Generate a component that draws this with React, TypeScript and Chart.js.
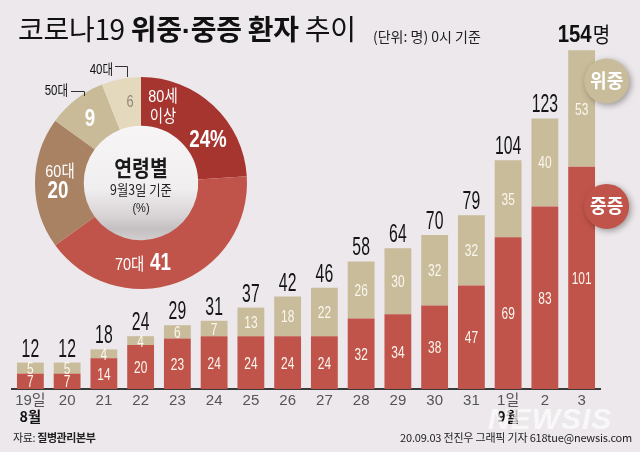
import React, { useEffect, useRef } from "react";
import { Chart, registerables } from "chart.js";

Chart.register(...registerables);

// ---- data ----
const categories = ["19일", "20", "21", "22", "23", "24", "25", "26", "27", "28", "29", "30", "31", "1일", "2", "3"];
const severeValues = [7, 7, 14, 20, 23, 24, 24, 24, 24, 32, 34, 38, 47, 69, 83, 101]; // 중증
const criticalValues = [5, 5, 4, 4, 6, 7, 13, 18, 22, 26, 30, 32, 32, 35, 40, 53]; // 위중
const monthIndexes = [0, 13];
const monthNames = ["8월", "9월"];
const ageLabels = ["80세 이상", "70대", "60대", "50대", "40대"];
const ageShares = [24, 41, 20, 9, 6];

// ---- styles ----
const BG = "#ece8eb";
const RED = "#c1544a";
const TAN = "#c8bc9a";
const DONUT_COLORS = ["#a6342f", "#c1544a", "#a98163", "#c9ba98", "#e5d9bd"];
const NUM_FONT = '"Liberation Sans", "Noto Sans CJK KR", sans-serif';
const KR_FONT = '"Noto Sans CJK KR", "Liberation Sans", sans-serif';

function condText(
  ctx: CanvasRenderingContext2D,
  text: string,
  x: number,
  y: number,
  font: string,
  color: string,
  sx = 0.7,
  align: CanvasTextAlign = "center"
) {
  ctx.save();
  ctx.font = font;
  ctx.fillStyle = color;
  ctx.textAlign = align;
  ctx.textBaseline = "alphabetic";
  ctx.translate(x, y);
  ctx.scale(sx, 1);
  ctx.fillText(text, 0, 0);
  ctx.restore();
}

function BarChart() {
  const ref = useRef<HTMLCanvasElement>(null);
  useEffect(() => {
    const labelPlugin = {
      id: "barLabels",
      afterDatasetsDraw(chart: any) {
        const ctx: CanvasRenderingContext2D = chart.ctx;
        const metas = [chart.getDatasetMeta(0), chart.getDatasetMeta(1)];
        const series = [severeValues, criticalValues];
        metas.forEach((meta, di) => {
          meta.data.forEach((el: any, i: number) => {
            const cy = (el.y + el.base) / 2;
            condText(ctx, String(series[di][i]), el.x, cy + 6, `17px ${NUM_FONT}`, "#fbf7ef", 0.7);
          });
        });
        const last = categories.length - 1;
        metas[1].data.forEach((el: any, i: number) => {
          const total = severeValues[i] + criticalValues[i];
          if (i === last) {
            ctx.save();
            ctx.font = `bold 24px ${NUM_FONT}`;
            const w = ctx.measureText(String(total)).width * 0.85;
            ctx.restore();
            const left = el.x - 24;
            condText(ctx, String(total), left, el.y - 8, `bold 24px ${NUM_FONT}`, "#111", 0.85, "left");
            condText(ctx, "명", left + w + 1, el.y - 8, `21px ${KR_FONT}`, "#111", 0.9, "left");
          } else {
            condText(ctx, String(total), el.x, el.y - 6, `25px ${NUM_FONT}`, "#151515", 0.63);
          }
        });
        const xs = chart.scales.x;
        const ys = chart.scales.y;
        monthIndexes.forEach((idx, k) => {
          condText(ctx, monthNames[k], xs.getPixelForValue(idx), 422, `bold 15px ${KR_FONT}`, "#111", 0.95);
        });
        // bubbles
        const lastEl: any = metas[1].data[last];
        const bx = lastEl.x + 25;
        const bubbles = [
          { y: ys.getPixelForValue(140), color: TAN, text: "위중" },
          { y: ys.getPixelForValue(83), color: RED, text: "중증" },
        ];
        bubbles.forEach((b) => {
          ctx.save();
          ctx.shadowColor = "rgba(0,0,0,0.35)";
          ctx.shadowBlur = 6;
          ctx.shadowOffsetX = 2;
          ctx.shadowOffsetY = 2;
          ctx.beginPath();
          ctx.arc(bx, b.y, 22.5, 0, Math.PI * 2);
          ctx.fillStyle = b.color;
          ctx.fill();
          ctx.restore();
          condText(ctx, b.text, bx, b.y + 7, `bold 19px ${KR_FONT}`, "#ffffff", 0.95);
        });
      },
    };
    const chart = new Chart(ref.current as HTMLCanvasElement, {
      type: "bar",
      data: {
        labels: categories,
        datasets: [
          { label: "중증", data: severeValues, backgroundColor: RED, barPercentage: 0.73, categoryPercentage: 1 },
          { label: "위중", data: criticalValues, backgroundColor: TAN, barPercentage: 0.73, categoryPercentage: 1 },
        ],
      },
      options: {
        responsive: false,
        animation: false,
        devicePixelRatio: 1,
        layout: { padding: { left: 12, right: 40, top: 37, bottom: 0 } },
        plugins: { legend: { display: false }, tooltip: { enabled: false } },
        scales: {
          x: {
            stacked: true,
            grid: { display: false, drawTicks: false },
            border: { display: true, color: "#3a3a3a", width: 2 },
            ticks: {
              color: "#555",
              font: { family: '"Liberation Sans Narrow", "Liberation Sans", "Noto Sans CJK KR"', size: 15 },
              padding: 3,
              maxRotation: 0,
              autoSkip: false,
            },
            afterFit: (s: any) => {
              s.height = 63;
            },
          },
          y: { stacked: true, display: false, min: 0, max: 160 },
        },
      },
      plugins: [labelPlugin],
    } as any);
    return () => chart.destroy();
  }, []);
  return <canvas ref={ref} width={640} height={452} style={{ position: "absolute", left: 0, top: 0, width: 640, height: 452 }} />;
}

function Donut() {
  const ref = useRef<HTMLCanvasElement>(null);
  useEffect(() => {
    const deco = {
      id: "donutDeco",
      beforeDatasetsDraw(chart: any) {
        const ctx: CanvasRenderingContext2D = chart.ctx;
        const arc: any = chart.getDatasetMeta(0).data[0];
        const { x, y, innerRadius } = arc;
        ctx.save();
        const g = ctx.createLinearGradient(0, y - innerRadius, 0, y + innerRadius);
        g.addColorStop(0, "#f7f5f6");
        g.addColorStop(0.55, "#f1eef0");
        g.addColorStop(0.8, "#d6d2d4");
        g.addColorStop(0.9, "#c4c0c2");
        g.addColorStop(1, "#d2cecf");
        ctx.beginPath();
        ctx.arc(x, y, innerRadius + 1, 0, Math.PI * 2);
        ctx.fillStyle = g;
        ctx.fill();
        ctx.restore();
      },
      afterDatasetsDraw(chart: any) {
        const ctx: CanvasRenderingContext2D = chart.ctx;
        const arc: any = chart.getDatasetMeta(0).data[0];
        const cx = arc.x;
        const cy = arc.y;
        const W = "#ffffff";
        // 80세 이상
        condText(ctx, "80세", cx + 22, cy - 81, `17px ${NUM_FONT}`, W, 0.85);
        condText(ctx, "이상", cx + 22, cy - 61, `17px ${KR_FONT}`, W, 0.85);
        condText(ctx, `${ageShares[0]}%`, cx + 67, cy - 36, `bold 24px ${NUM_FONT}`, W, 0.78);
        // 70대
        condText(ctx, "70대", cx - 26, cy + 87, `17px ${NUM_FONT}`, W, 0.85, "left");
        condText(ctx, String(ageShares[1]), cx + 9, cy + 87, `bold 24px ${NUM_FONT}`, W, 0.78, "left");
        // 60대
        condText(ctx, "60대", cx - 81, cy - 6, `17px ${NUM_FONT}`, W, 0.85);
        condText(ctx, String(ageShares[2]), cx - 83, cy + 15, `bold 24px ${NUM_FONT}`, W, 0.78);
        // 50대
        condText(ctx, String(ageShares[3]), cx - 51, cy - 57, `bold 24px ${NUM_FONT}`, W, 0.78);
        // 40대
        condText(ctx, String(ageShares[4]), cx - 11, cy - 76, `16px ${NUM_FONT}`, "#8f8778", 0.8);
        // outside labels
        condText(ctx, "50대", cx - 73, cy - 88, `14px ${NUM_FONT}`, "#111", 0.82, "right");
        condText(ctx, "40대", cx - 28, cy - 109, `14px ${NUM_FONT}`, "#111", 0.82, "right");
        ctx.save();
        ctx.strokeStyle = "#333";
        ctx.lineWidth = 1;
        ctx.beginPath();
        ctx.moveTo(cx - 70, cy - 91.5);
        ctx.lineTo(cx - 56.5, cy - 91.5);
        ctx.lineTo(cx - 56.5, cy - 87);
        ctx.moveTo(cx - 26, cy - 116.5);
        ctx.lineTo(cx - 13.5, cy - 116.5);
        ctx.lineTo(cx - 13.5, cy - 106);
        ctx.stroke();
        ctx.restore();
        // center
        condText(ctx, "연령별", cx, cy - 7, `bold 22px ${KR_FONT}`, "#1a1a1a", 0.88);
        condText(ctx, "9월3일 기준", cx, cy + 12, `14px ${KR_FONT}`, "#222", 0.88);
        condText(ctx, "(%)", cx, cy + 29, `13px ${NUM_FONT}`, "#222", 0.85);
      },
    };
    const chart = new Chart(ref.current as HTMLCanvasElement, {
      type: "doughnut",
      data: {
        labels: ageLabels,
        datasets: [{ data: ageShares, backgroundColor: DONUT_COLORS, borderWidth: 0 }],
      },
      options: {
        responsive: false,
        animation: false,
        devicePixelRatio: 1,
        cutout: "54%",
        layout: { padding: 34 },
        plugins: { legend: { display: false }, tooltip: { enabled: false } },
      },
      plugins: [deco],
    } as any);
    return () => chart.destroy();
  }, []);
  return <canvas ref={ref} width={280} height={280} style={{ position: "absolute", left: 1, top: 43, width: 280, height: 280 }} />;
}

export default function App() {
  return (
    <div style={{ position: "absolute", left: 0, top: 0, width: 640, height: 452, background: BG, overflow: "hidden" }}>
      <BarChart />
      <Donut />
      <div
        style={{
          position: "absolute",
          left: 18,
          top: 14,
          fontFamily: KR_FONT,
          fontSize: 28,
          lineHeight: "28px",
          color: "#111",
          whiteSpace: "nowrap",
          letterSpacing: -0.3,
        }}
      >
        코로나19{" "}
        <b>
          위중<span style={{ fontFamily: '"Liberation Sans", sans-serif' }}>·</span>중증 환자
        </b>{" "}
        추이
      </div>
      <div
        style={{
          position: "absolute",
          left: 373,
          top: 29,
          fontFamily: KR_FONT,
          fontSize: 14,
          lineHeight: "14px",
          color: "#222",
          whiteSpace: "nowrap",
        }}
      >
        (단위: 명) 0시 기준
      </div>
      <div
        style={{
          position: "absolute",
          left: 488,
          top: 404,
          fontFamily: '"Liberation Sans", sans-serif',
          fontStyle: "italic",
          fontWeight: 900,
          fontSize: 30,
          lineHeight: "30px",
          color: "rgba(255,255,255,0.7)",
          letterSpacing: 1,
          whiteSpace: "nowrap",
        }}
      >
        NEWSIS
      </div>
      <div
        style={{
          position: "absolute",
          left: 13,
          top: 432,
          fontFamily: KR_FONT,
          fontSize: 11,
          lineHeight: "11px",
          color: "#222",
          whiteSpace: "nowrap",
          letterSpacing: -0.4,
        }}
      >
        자료: <b>질병관리본부</b>
      </div>
      <div
        style={{
          position: "absolute",
          right: 8,
          top: 432,
          fontFamily: KR_FONT,
          fontSize: 11,
          lineHeight: "11px",
          color: "#222",
          whiteSpace: "nowrap",
          letterSpacing: -0.2,
        }}
      >
        20.09.03 전진우 그래픽 기자 618tue@newsis.com
      </div>
    </div>
  );
}
